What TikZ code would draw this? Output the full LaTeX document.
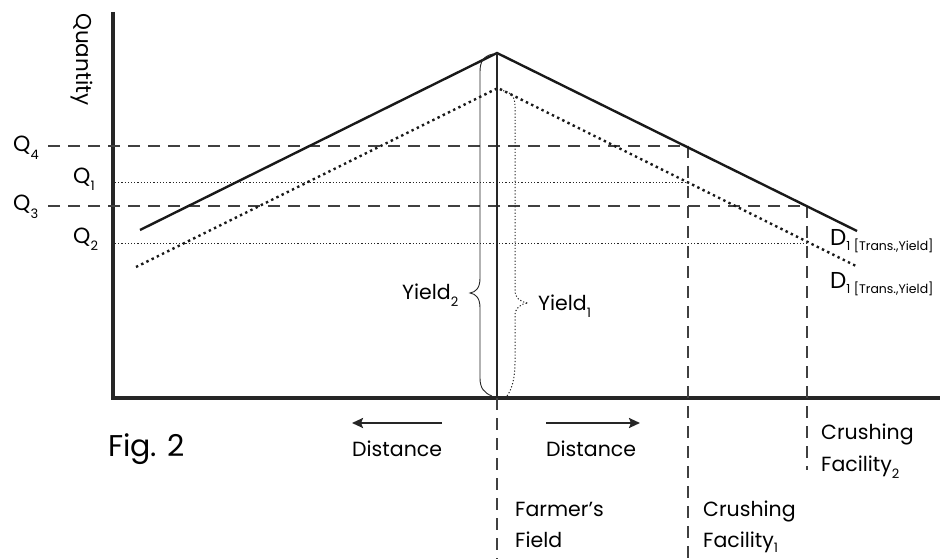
\documentclass[tikz,border=0pt]{standalone}
\usepackage{fontspec}
\setmainfont{Poppins}
\usetikzlibrary{arrows.meta}
\begin{document}
\begin{tikzpicture}[x=1pt,y=-1pt,
  axisline/.style={line width=4pt,draw=black!85,line join=miter},
  solidcurve/.style={line width=2.4pt,draw=black!90},
  dotcurve/.style={line width=2.4pt,draw=black!90,dash pattern=on 2.4pt off 3.4pt},
  dashline/.style={line width=1.1pt,draw=black!75,dash pattern=on 12pt off 8pt},
  dotline/.style={line width=1pt,draw=black!85,dash pattern=on 1.2pt off 2pt},
  lbl/.style={inner sep=0pt,anchor=base west,font=\fontsize{20.5}{24}\selectfont},
  arr/.style={line width=2.2pt,draw=black!85,-{Stealth[length=11pt,width=10pt,inset=2pt]}}]
\useasboundingbox (0,0) rectangle (940,559);
% key points
\coordinate (top) at (113,12);
\coordinate (origin) at (113,398);
\coordinate (xend) at (940,398);
\coordinate (sL) at (140,230);
\coordinate (sP) at (497,53);
\coordinate (sR) at (857,231);
\coordinate (dL) at (136,267);
\coordinate (dP) at (498,88);
\coordinate (dR) at (856,266);
\coordinate (peakfoot) at (497,398);
\coordinate (q4a) at (48,146);
\coordinate (q4b) at (688,146);
\coordinate (q3a) at (48,206);
\coordinate (q3b) at (807,206);
\coordinate (q1a) at (115,183);
\coordinate (q1b) at (688,183);
\coordinate (q2a) at (115,243);
\coordinate (q2b) at (807,243);
\coordinate (v0b) at (497,559);
\coordinate (v1b) at (688,559);
\coordinate (v2b) at (807,470);
% axes
\draw[axisline] (top) -- (origin) -- (xend);
% guide lines
\draw[dashline] (q4a) -- (q4b);
\draw[dashline] (q3a) -- (q3b);
\draw[dotline] (q1a) -- (q1b);
\draw[dotline] (q2a) -- (q2b);
\draw[dashline] (peakfoot) -- (v0b);
\draw[dashline] (q4b) -- (v1b);
\draw[dashline] (q3b) -- (v2b);
% curves
\draw[solidcurve] (sL) -- (sP) -- (sR);
\draw[dotcurve] (dL) -- (dP) -- (dR);
\draw[line width=2pt,draw=black!85] (sP) -- (peakfoot);
% braces
\draw[line width=0.9pt,draw=black!85] (493,54) .. controls (483,56) and (480,62) .. (480,72) -- (480,278)
  .. controls (480,288) and (476,292) .. (470,293) .. controls (476,294) and (480,298) .. (480,308)
  -- (480,378) .. controls (480,388) and (484,393) .. (492,396);
\draw[dotline] (500,90) .. controls (511,92) and (515,96) .. (515,106) -- (515,290)
  .. controls (515,298) and (520,302) .. (528,303) .. controls (520,304) and (515,308) .. (515,316)
  -- (515,362) .. controls (515,378) and (512,389) .. (507,396);
% labels
\newcommand\sbs[1]{\raisebox{-0.35em}{\fontsize{13}{14}\selectfont #1}}
\node[lbl,font=\fontsize{22}{24}\selectfont] (lq4) at (13,152) {Q\sbs{4}};
\node[lbl,font=\fontsize{22}{24}\selectfont] (lq1) at (73,183) {Q\sbs{1}};
\node[lbl,font=\fontsize{22}{24}\selectfont] (lq3) at (13,211) {Q\sbs{3}};
\node[lbl,font=\fontsize{22}{24}\selectfont] (lq2) at (73,243) {Q\sbs{2}};
\node[lbl,rotate=-90,font=\fontsize{21.5}{24}\selectfont] (lqty) at (76,13) {Quantity};
\node[lbl,font=\fontsize{23}{24}\selectfont] (ld1) at (830,245) {D\raisebox{-0.25em}{\fontsize{12.5}{14}\selectfont 1 [Trans.,Yield]}};
\node[lbl,font=\fontsize{23}{24}\selectfont] (ld2) at (830,288) {D\raisebox{-0.25em}{\fontsize{12.5}{14}\selectfont 1 [Trans.,Yield]}};
\node[lbl] (ly2) at (402,299) {Yield\sbs{2}};
\node[lbl] (ly1) at (538,310) {Yield\sbs{1}};
\node[lbl] (ldl) at (352,456) {Distance};
\node[lbl] (ldr) at (546,456) {Distance};
\node[lbl,font=\fontsize{30}{32}\selectfont] (fig) at (108,456) {Fig. 2};
\node[lbl] (ff1) at (515,516) {Farmer’s};
\node[lbl] (ff2) at (515,547) {Field};
\node[lbl] (cf1a) at (703,516) {Crushing};
\node[lbl] (cf1b) at (703,547) {Facility\raisebox{-0.25em}{\fontsize{13}{14}\selectfont 1}};
\node[lbl] (cf2a) at (821,439) {Crushing};
\node[lbl] (cf2b) at (821,471) {Facility\sbs{2}};
% arrows
\coordinate (al1) at (442,423);
\coordinate (al2) at (352,423);
\coordinate (ar1) at (546,423);
\coordinate (ar2) at (640,423);
\draw[arr] (al1) -- (al2);
\draw[arr] (ar1) -- (ar2);
\end{tikzpicture}
\end{document}
